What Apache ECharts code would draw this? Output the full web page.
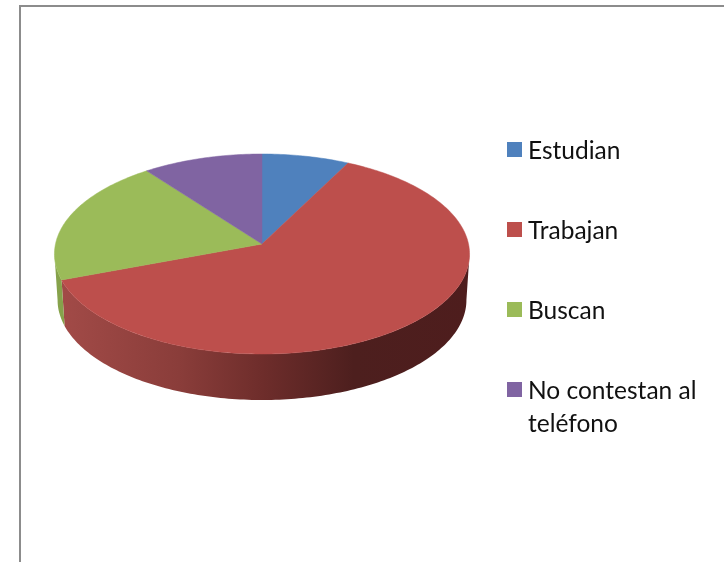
<!DOCTYPE html>
<html><head><meta charset="utf-8">
<style>html,body{margin:0;padding:0;background:#fff}#c{width:724px;height:562px}</style>
<script src="https://cdn.jsdelivr.net/npm/echarts@6/dist/echarts.min.js"></script>
</head><body><div id="c"></div>
<script>
const categories = ['Estudian', 'Trabajan', 'Buscan', 'No contestan al teléfono'];
const values = [7.5, 61.8, 20.4, 10.3];
const topColors = ['#4F81BD', '#BD4F4C', '#9BBB59', '#8064A2'];

const chart = echarts.init(document.getElementById('c'), null, {renderer: 'canvas'});
const total = values.reduce((a, b) => a + b, 0);

const CX = 262, CY = 244, RX = 206.5, A = 99, K = 0.1, DEPTH = 46, SHRINK = 0.985;
const FRONT_START = 0.2659, FRONT_END = 0.7341;
function project(frac) {
  const t = frac * 2 * Math.PI, u = Math.sin(t), v = -Math.cos(t), w = 1 / (1 - K * v);
  return [CX + RX * u * w, CY + A * v * w];
}
function arc(f0, f1) {
  const pts = [], n = Math.max(2, Math.ceil((f1 - f0) * 360));
  for (let i = 0; i <= n; i++) pts.push(project(f0 + (f1 - f0) * i / n));
  return pts;
}
function wallPoints(f0, f1) {
  const lo = Math.max(f0, FRONT_START), hi = Math.min(f1, FRONT_END);
  if (lo >= hi) return [];
  const upper = arc(lo, hi);
  const lower = upper.map(p => [CX + (p[0] - CX) * SHRINK, p[1] + DEPTH]).reverse();
  return upper.concat(lower);
}
const wallFill = i => i === 1
  ? {type: 'linear', x: 55, y: 0, x2: 470, y2: 0, global: true, colorStops: [
      {offset: 0, color: '#A34B48'}, {offset: 0.3, color: '#8A3D3A'}, {offset: 0.5, color: '#6E2D2B'},
      {offset: 0.72, color: '#4D1F1E'}, {offset: 1, color: '#4E1D1D'}]}
  : i === 2 ? '#86A24B' : i === 0 ? '#3E6695' : '#664F82';

let acc = 0;
const series = categories.map((name, i) => {
  const start = acc / total; acc += values[i];
  return {
    type: 'custom', name, coordinateSystem: 'none', silent: true,
    itemStyle: {color: topColors[i]},
    data: [[start, acc / total]],
    renderItem: (params, api) => {
      const f0 = api.value(0), f1 = api.value(1);
      const wall = wallPoints(f0, f1);
      const children = [];
      if (wall.length) children.push({type: 'polygon', z2: 1, shape: {points: wall}, style: {fill: wallFill(i)}});
      children.push({type: 'polygon', z2: 10, shape: {points: [[CX, CY]].concat(arc(f0, f1))},
        style: {fill: topColors[i], stroke: topColors[i], lineWidth: 0.5}});
      return {type: 'group', children};
    }
  };
});

chart.setOption({
  animation: false,
  backgroundColor: '#fff',
  legend: {
    orient: 'vertical', left: 507, top: 135, padding: 0, icon: 'rect',
    itemWidth: 15, itemHeight: 15, itemGap: 51,
    selectedMode: false,
    textStyle: {
      rich: {t: {fontFamily: 'Lato', fontSize: 24.5, color: '#111', lineHeight: 30, padding: [4, 0, 0, 1]}}
    },
    formatter: n => '{t|' + (n === categories[3] ? 'No contestan al' : n) + '}',
    data: categories
  },
  graphic: [
    {type: 'rect', silent: true, shape: {x: 20, y: 6, width: 720, height: 600},
     style: {fill: 'none', stroke: '#8C8C8C', lineWidth: 2}},
    {type: 'text', left: 528, top: 412, silent: true,
     style: {text: 'teléfono', fontFamily: 'Lato', fontSize: 24.5, fill: '#111'}}
  ],
  series
});
</script></body></html>
